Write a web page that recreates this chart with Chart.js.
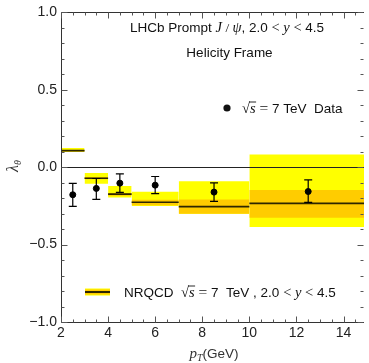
<!DOCTYPE html>
<html>
<head>
<meta charset="utf-8">
<script src="https://cdn.jsdelivr.net/npm/chart.js@4"></script>
<style>
  html, body { margin: 0; padding: 0; background: #fff; }
  #wrap { width: 369px; height: 363px; }
</style>
</head>
<body>
<div id="wrap"><canvas id="c" width="369" height="363"></canvas></div>
<script>
// pT bins (GeV) and NRQCD bands
const binLo = [2, 3, 4, 5, 7, 10];
const binHi = [3, 4, 5, 7, 10, 15];
const nrqcdCentral = [0.107, -0.071, -0.174, -0.226, -0.255, -0.234];
const yellowHi = [0.124, -0.037, -0.122, -0.159, -0.090, 0.082];
const yellowLo = [0.098, -0.107, -0.196, -0.251, -0.300, -0.386];
const orangeHi = [0.113, -0.064, -0.166, -0.210, -0.208, -0.148];
const orangeLo = [0.101, -0.078, -0.184, -0.245, -0.300, -0.326];

// LHCb data points
const dataPt = [2.5, 3.5, 4.5, 6, 8.5, 12.5];
const dataVal = [-0.178, -0.137, -0.103, -0.116, -0.161, -0.157];
const errLo = [-0.253, -0.208, -0.163, -0.171, -0.221, -0.227];
const errHi = [-0.105, -0.073, -0.043, -0.060, -0.101, -0.082];

const xTicks = [2, 4, 6, 8, 10, 12, 14];
const yTicks = [-1, -0.5, 0, 0.5, 1];

const SANS = '"Liberation Sans", Arial, sans-serif';
const SERIF = '"Liberation Serif", "DejaVu Serif", serif';
const YELLOW = '#ffff00', ORANGE = '#ffcc00', DARK = 'rgb(45,38,0)';
const NONE = 'rgba(0,0,0,0)';

// ---- datasets ----
const datasets = [];
binLo.forEach((lo, i) => {
  const hi = binHi[i];
  const seg = v => [{ x: lo, y: v }, { x: hi, y: v }];
  datasets.push({ type: 'line', data: seg(yellowHi[i]), fill: '+1', backgroundColor: YELLOW,
    borderColor: NONE, pointRadius: 0, showLine: true, order: 4 });
  datasets.push({ type: 'line', data: seg(yellowLo[i]), fill: false,
    borderColor: NONE, pointRadius: 0, showLine: true, order: 4 });
  datasets.push({ type: 'line', data: seg(orangeHi[i]), fill: '+1', backgroundColor: ORANGE,
    borderColor: NONE, pointRadius: 0, showLine: true, order: 3 });
  datasets.push({ type: 'line', data: seg(orangeLo[i]), fill: false,
    borderColor: NONE, pointRadius: 0, showLine: true, order: 3 });
  datasets.push({ type: 'line', data: seg(nrqcdCentral[i]), fill: false,
    borderColor: DARK, borderWidth: 1.6, pointRadius: 0, showLine: true, order: 2 });
});
datasets.push({
  type: 'scatter',
  data: dataPt.map((x, i) => ({ x, y: dataVal[i] })),
  backgroundColor: '#000', borderColor: '#000', pointRadius: 3, order: 0
});

// rich text helper: parts drawn one after another
function rich(ctx, parts, x, y, align) {
  let w = 0;
  parts.forEach(p => { ctx.font = p.f; p.w = ctx.measureText(p.t).width; w += p.w; });
  let cx = align === 'center' ? x - w / 2 : x;
  parts.forEach(p => {
    ctx.font = p.f;
    ctx.fillText(p.t, cx, y + (p.dy || 0));
    if (p.over) {
      ctx.beginPath();
      ctx.lineWidth = 0.9;
      ctx.moveTo(cx - 1, y - p.over);
      ctx.lineTo(cx + p.w + 0.5, y - p.over);
      ctx.stroke();
    }
    cx += p.w;
  });
}

const sans = s => s + 'px ' + SANS;
const ser = s => s + 'px ' + SERIF;
const ital = s => 'italic ' + s + 'px ' + SERIF;

const decor = {
  id: 'decor',
  afterDatasetsDraw(chart) {
    const { ctx, chartArea: a, scales: { x, y } } = chart;
    ctx.save();
    // zero line
    ctx.strokeStyle = '#222';
    ctx.lineWidth = 1;
    const y0 = Math.round(y.getPixelForValue(0)) + 0.5;
    ctx.beginPath(); ctx.moveTo(a.left, y0); ctx.lineTo(a.right, y0); ctx.stroke();

    // error bars
    ctx.strokeStyle = '#000';
    ctx.lineWidth = 1.2;
    dataPt.forEach((v, i) => {
      const px = x.getPixelForValue(v);
      const lo = y.getPixelForValue(errLo[i]), hi = y.getPixelForValue(errHi[i]);
      ctx.beginPath();
      ctx.moveTo(px, lo); ctx.lineTo(px, hi);
      ctx.moveTo(px - 4, lo); ctx.lineTo(px + 4, lo);
      ctx.moveTo(px - 4, hi); ctx.lineTo(px + 4, hi);
      ctx.stroke();
    });

    // frame
    ctx.strokeStyle = '#333';
    ctx.lineWidth = 1;
    const L = Math.round(a.left) + 0.5, B = Math.round(a.bottom) + 0.5, T = Math.round(a.top) + 0.5, R = Math.round(a.right) - 0.5;
    ctx.beginPath();
    ctx.moveTo(L, T); ctx.lineTo(L, B); ctx.lineTo(a.right, B);
    ctx.moveTo(L, T); ctx.lineTo(a.right, T);
    ctx.stroke();

    // ticks
    ctx.strokeStyle = '#555';
    ctx.beginPath();
    for (let k = 4; k <= 30; k++) {
      const v = k / 2;
      if (v > x.max) break;
      const px = Math.round(x.getPixelForValue(v)) + 0.5;
      const len = (k % 4 === 0) ? 6 : 3;
      ctx.moveTo(px, B); ctx.lineTo(px, B - len);
      ctx.moveTo(px, T); ctx.lineTo(px, T + len);
    }
    for (let k = -10; k <= 10; k++) {
      const py = Math.round(y.getPixelForValue(k / 10)) + 0.5;
      const len = (k % 5 === 0) ? 6 : 3;
      ctx.moveTo(L, py); ctx.lineTo(L + len, py);
      ctx.moveTo(R, py); ctx.lineTo(R - len, py);
    }
    ctx.stroke();
    ctx.restore();
  },
  afterDraw(chart) {
    const { ctx } = chart;
    ctx.save();
    ctx.fillStyle = '#111';
    ctx.strokeStyle = '#111';
    ctx.textBaseline = 'alphabetic';

    rich(ctx, [
      { t: 'LHCb Prompt ', f: sans(13.5) },
      { t: 'J', f: ital(14.5) }, { t: ' / ', f: ser(13.5) }, { t: 'ψ', f: ital(14.5) },
      { t: ', 2.0 ', f: sans(13.5) }, { t: '<', f: ser(14.5) }, { t: ' ', f: sans(13) },
      { t: 'y', f: ital(14.5) }, { t: ' < ', f: ser(14.5) }, { t: '4.5', f: sans(13.5) }
    ], 227, 32, 'center');
    rich(ctx, [{ t: 'Helicity Frame', f: sans(13.5) }], 229.5, 57, 'center');

    // data legend
    ctx.beginPath();
    ctx.arc(227, 108, 3.6, 0, Math.PI * 2);
    ctx.fill();
    rich(ctx, [
      { t: '√', f: ser(14.5) }, { t: 's', f: ital(14.5), over: 11 },
      { t: ' = ', f: ser(15.5) }, { t: '7 TeV  Data', f: sans(13.5) }
    ], 242, 113, 'left');

    // NRQCD legend
    ctx.fillStyle = YELLOW; ctx.fillRect(85, 288.5, 25, 7);
    ctx.fillStyle = ORANGE; ctx.fillRect(85, 289.5, 25, 5);
    ctx.fillStyle = DARK; ctx.fillRect(85, 291, 25, 2);
    ctx.fillStyle = '#111';
    rich(ctx, [
      { t: 'NRQCD  ', f: sans(13.5) },
      { t: '√', f: ser(14.5) }, { t: 's', f: ital(14.5), over: 11 },
      { t: ' = ', f: ser(15.5) }, { t: '7  TeV , 2.0 ', f: sans(13.5) },
      { t: '<', f: ser(14.5) }, { t: ' ', f: sans(13.5) }, { t: 'y', f: ital(14.5) },
      { t: ' < ', f: ser(14.5) }, { t: '4.5', f: sans(13.5) }
    ], 124, 297, 'left');

    // axis titles
    ctx.fillStyle = '#333';
    rich(ctx, [
      { t: 'p', f: ital(15) }, { t: 'T', f: ital(10), dy: 3 }, { t: '(GeV)', f: sans(13.5) }
    ], 214, 358, 'center');
    ctx.translate(18, 166);
    ctx.rotate(-Math.PI / 2);
    rich(ctx, [{ t: 'λ', f: ital(16) }, { t: 'θ', f: ital(10), dy: 3 }], 0, 0, 'center');
    ctx.restore();
  }
};

new Chart(document.getElementById('c'), {
  type: 'scatter',
  data: { datasets },
  options: {
    responsive: false,
    animation: false,
    layout: { padding: { top: 11, right: 0, left: 0, bottom: 0 } },
    plugins: { legend: { display: false }, tooltip: { enabled: false } },
    scales: {
      x: {
        type: 'linear', min: 2, max: 14.87,
        grid: { display: false, drawTicks: false },
        border: { display: false },
        afterBuildTicks: s => { s.ticks = xTicks.map(v => ({ value: v })); },
        afterFit: s => { s.height = 41; },
        ticks: { color: '#222', padding: 3, font: { family: SANS, size: 14 }, callback: v => String(v) }
      },
      y: {
        min: -1, max: 1,
        grid: { display: false, drawTicks: false },
        border: { display: false },
        afterBuildTicks: s => { s.ticks = yTicks.map(v => ({ value: v })); },
        afterFit: s => { s.width = 61; },
        ticks: {
          color: '#222', padding: 4, font: { family: SANS, size: 14 },
          callback: v => (v < 0 ? '−' : '') + Math.abs(v).toFixed(1)
        }
      }
    }
  },
  plugins: [decor]
});
</script>
</body>
</html>
